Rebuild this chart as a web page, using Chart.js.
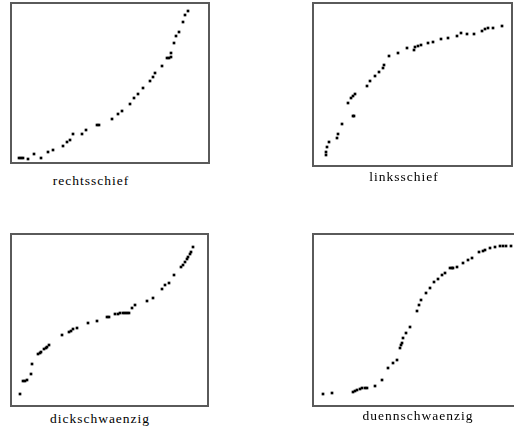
<!DOCTYPE html>
<html>
<head>
<meta charset="utf-8">
<script src="https://cdn.jsdelivr.net/npm/chart.js@4/dist/chart.umd.min.js"></script>
<style>
  html, body { margin: 0; padding: 0; background: #fff; overflow: hidden; }
  body { width: 514px; height: 429px; position: relative; }
  .plot { position: absolute; }
  .lbl {
    position: absolute; font-family: "Liberation Serif", "DejaVu Serif", serif;
    font-size: 13.5px; letter-spacing: 1px; color: #000; transform: translateX(-50%);
    white-space: nowrap;
  }
</style>
</head>
<body>
<div class="plot" style="left:7px;top:-1px;width:206px;height:168px"><canvas id="c1"></canvas></div>
<div class="plot" style="left:309px;top:-1px;width:207px;height:171px"><canvas id="c2"></canvas></div>
<div class="plot" style="left:7px;top:230px;width:205px;height:180px"><canvas id="c3"></canvas></div>
<div class="plot" style="left:309px;top:230px;width:213px;height:180px"><canvas id="c4"></canvas></div>
<div class="lbl" style="left:91px;top:173px">rechtsschief</div>
<div class="lbl" style="left:404px;top:169px">linksschief</div>
<div class="lbl" style="left:100px;top:411px">dickschwaenzig</div>
<div class="lbl" style="left:418px;top:408px">duennschwaenzig</div>
<script>
document.addEventListener("DOMContentLoaded", function () {

    'use strict';

    // values, x / y within each panel
    var rechtsX = [8, 10, 12, 17, 23, 30, 37, 42, 52, 56, 59, 62, 71, 75, 86, 88, 101, 107, 111, 119, 123, 127, 132, 139, 142, 144, 151, 156, 158, 160, 160, 163, 165, 168, 172, 174, 177];
    var rechtsY = [5, 5, 5, 4, 9, 5, 11, 13, 17, 21, 23, 29, 29, 33, 38, 38, 44, 49, 52, 59, 65, 69, 75, 82, 86, 90, 97, 105, 105, 106, 110, 120, 127, 131, 141, 148, 152];

    var linksX = [13, 13, 14, 16, 24, 25, 29, 40, 41, 35, 38, 40, 42, 54, 57, 62, 66, 70, 71, 76, 85, 94, 101, 102, 105, 108, 115, 120, 128, 135, 144, 148, 154, 161, 169, 172, 175, 180, 189];
    var linksY = [11, 14, 19, 24, 28, 32, 42, 50, 50, 63, 68, 70, 72, 80, 85, 90, 94, 98, 101, 110, 113, 118, 116, 119, 120, 121, 123, 124, 127, 128, 130, 133, 132, 132, 135, 137, 138, 138, 140];

    var dickX = [9, 12, 14, 16, 20, 21, 27, 29, 30, 33, 35, 36, 38, 51, 58, 60, 62, 66, 77, 86, 96, 98, 104, 107, 109, 112, 114, 116, 118, 121, 124, 136, 142, 151, 154, 158, 163, 170, 172, 174, 176, 177, 179, 180, 182];
    var dickY = [12, 25, 25, 26, 32, 42, 52, 53, 54, 57, 58, 59, 61, 71, 74, 75, 77, 78, 83, 85, 89, 89, 92, 92, 93, 93, 93, 93, 93, 98, 101, 105, 108, 117, 121, 123, 131, 139, 141, 144, 147, 149, 152, 154, 159];

    var duennX = [10, 19, 40, 42, 44, 47, 49, 52, 54, 62, 69, 75, 80, 84, 87, 88, 89, 90, 93, 97, 104, 106, 108, 113, 117, 121, 125, 129, 132, 137, 139, 140, 144, 150, 155, 159, 166, 170, 172, 177, 182, 187, 190, 193, 198];
    var duennY = [12, 13, 14, 15, 16, 17, 18, 18, 18, 20, 26, 38, 43, 46, 58, 61, 63, 68, 73, 79, 95, 101, 106, 113, 118, 124, 127, 131, 133, 138, 138, 138, 139, 143, 146, 148, 154, 155, 156, 158, 159, 160, 160, 160, 160];

    var frame = {
        id: 'frame',
        afterDraw: function (chart) {
            var a = chart.chartArea, ctx = chart.ctx;
            ctx.save();
            ctx.strokeStyle = '#5a5a5a';
            ctx.lineWidth = 2;
            ctx.strokeRect(a.left, a.top, a.right - a.left, a.bottom - a.top);
            ctx.restore();
        }
    };

    function pts(xs, ys) {
        return xs.map(function (x, i) { return { x: x, y: ys[i] }; });
    }

    function draw(id, xs, ys, w, h) {
        new Chart(document.getElementById(id), {
            type: 'scatter',
            data: {
                datasets: [{
                    data: pts(xs, ys),
                    pointStyle: 'rect',
                    pointRadius: 1.9,
                    backgroundColor: '#000',
                    borderColor: '#000',
                    borderWidth: 0
                }]
            },
            options: {
                responsive: true,
                maintainAspectRatio: false,
                animation: false,
                layout: { padding: 4 },
                plugins: { legend: { display: false }, tooltip: { enabled: false } },
                scales: {
                    x: { display: false, min: 0, max: w },
                    y: { display: false, min: 0, max: h }
                }
            },
            plugins: [frame]
        });
    }

    draw('c1', rechtsX, rechtsY, 198, 160);
    draw('c2', linksX, linksY, 199, 163);
    draw('c3', dickX, dickY, 197, 172);
    draw('c4', duennX, duennY, 205, 172);

});
</script>
</body>
</html>
